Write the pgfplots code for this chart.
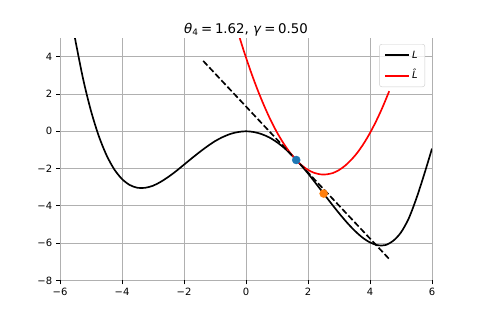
\documentclass[border=0pt]{standalone}
\usepackage{fontspec}
\setmainfont{DejaVu Sans}
\usepackage{pgfplots}
\pgfplotsset{compat=1.18}
\definecolor{gridc}{HTML}{B0B0B0}
\definecolor{legc}{HTML}{CCCCCC}
\definecolor{cblue}{HTML}{1F77B4}
\definecolor{corange}{HTML}{FF7F0E}
\begin{document}
\begin{tikzpicture}
\path[use as bounding box] (-54pt,-35.55pt) rectangle (378pt,252.45pt);
\begin{axis}[at={(0,0)}, anchor=south west, scale only axis,
  width=334.8pt, height=218.25pt,
  xmin=-6, xmax=6, ymin=-8, ymax=5,
  xtick={-6,-4,-2,0,2,4,6}, xticklabels={−6,−4,−2,0,2,4,6},
  ytick={-8,-6,-4,-2,0,2,4}, yticklabels={−8,−6,−4,−2,0,2,4},
  axis line style={draw=none},
  tick align=outside, tick pos=left,
  major tick length=3.5pt, tick style={black, line width=0.8pt},
  grid=major, grid style={gridc, line width=0.8pt},
  ticklabel style={font=\fontsize{9}{11}\selectfont},
  title={\textit{θ}\textsubscript{4}\kern0.2em=\kern0.2em1.62, \textit{γ}\kern0.2em=\kern0.2em0.50},
  title style={font=\fontsize{12}{14}\selectfont, at={(0.5,1)}, anchor=base, yshift=-1.8pt},
  legend cell align=left,
  legend style={at={(1,1)}, anchor=north east, xshift=-6.3pt, yshift=-5.4pt,
    font=\fontsize{9}{11}\selectfont, draw=legc, rounded corners=2pt,
    fill=white, fill opacity=0.8, text opacity=1, inner xsep=4.3pt, inner ysep=3.4pt,
    row sep=5.5pt, nodes={inner sep=2pt, text height=7pt, text depth=2pt}},
  legend image code/.code={\draw[#1, line width=1.5pt] (0pt,0pt) -- (21.6pt,0pt);},
  legend image post style={line width=1.5pt},
]
\addplot[only marks, mark=*, mark size=3.6pt, draw=cblue, fill=cblue, forget plot] coordinates {(1.62,-1.54)};
\addplot[only marks, mark=*, mark size=3.6pt, draw=corange, fill=corange, forget plot] coordinates {(2.505,-3.34)};
\addplot[black, line width=1.5pt, smooth, tension=0.5] coordinates {
(-5.55,5.30) (-5.5,4.84) (-5.25,2.77) (-5.0,1.09) (-4.75,-0.25) (-4.5,-1.28) (-4.25,-2.04) (-4.0,-2.56) (-3.75,-2.88) (-3.5,-3.03) (-3.25,-3.03) (-3.0,-2.92) (-2.75,-2.71) (-2.5,-2.44) (-2.25,-2.13) (-2.0,-1.79) (-1.75,-1.45) (-1.5,-1.12) (-1.25,-0.81) (-1.0,-0.53) (-0.75,-0.31) (-0.5,-0.14) (-0.25,-0.04) (0,0) (0.25,-0.04) (0.5,-0.15) (0.75,-0.33) (1.0,-0.59) (1.25,-0.92) (1.5,-1.32) (1.75,-1.77) (2.0,-2.26) (2.25,-2.79) (2.5,-3.33) (2.75,-3.87) (3.0,-4.39) (3.25,-4.88) (3.5,-5.32) (3.75,-5.69) (4.0,-5.96) (4.25,-6.11) (4.5,-6.10) (4.75,-5.87) (5.0,-5.42) (5.25,-4.67) (5.5,-3.58) (5.75,-2.30) (6.0,-0.93)};
\addlegendentry{\textit{L}}
\addplot[red, line width=1.5pt, smooth, tension=0.5] coordinates {
(-0.25,5.27) (-0.2,4.99) (-0.1,4.46) (0,3.95) (0.2,2.99) (0.4,2.11) (0.6,1.31) (0.8,0.58) (1.0,-0.06) (1.2,-0.62) (1.4,-1.10) (1.62,-1.54) (1.8,-1.83) (2.0,-2.07) (2.2,-2.23) (2.4,-2.31) (2.5,-2.32) (2.6,-2.31) (2.8,-2.24) (3.0,-2.08) (3.2,-1.84) (3.4,-1.52) (3.6,-1.13) (3.8,-0.65) (4.0,-0.09) (4.2,0.55) (4.4,1.27) (4.62,2.15)};
\addlegendentry{\textit{\^{L}}}
\addplot[black, line width=1.5pt, dash pattern=on 5.55pt off 2.4pt, forget plot] coordinates {(-1.38,3.77) (4.62,-6.85)};
\end{axis}
\end{tikzpicture}
\end{document}
